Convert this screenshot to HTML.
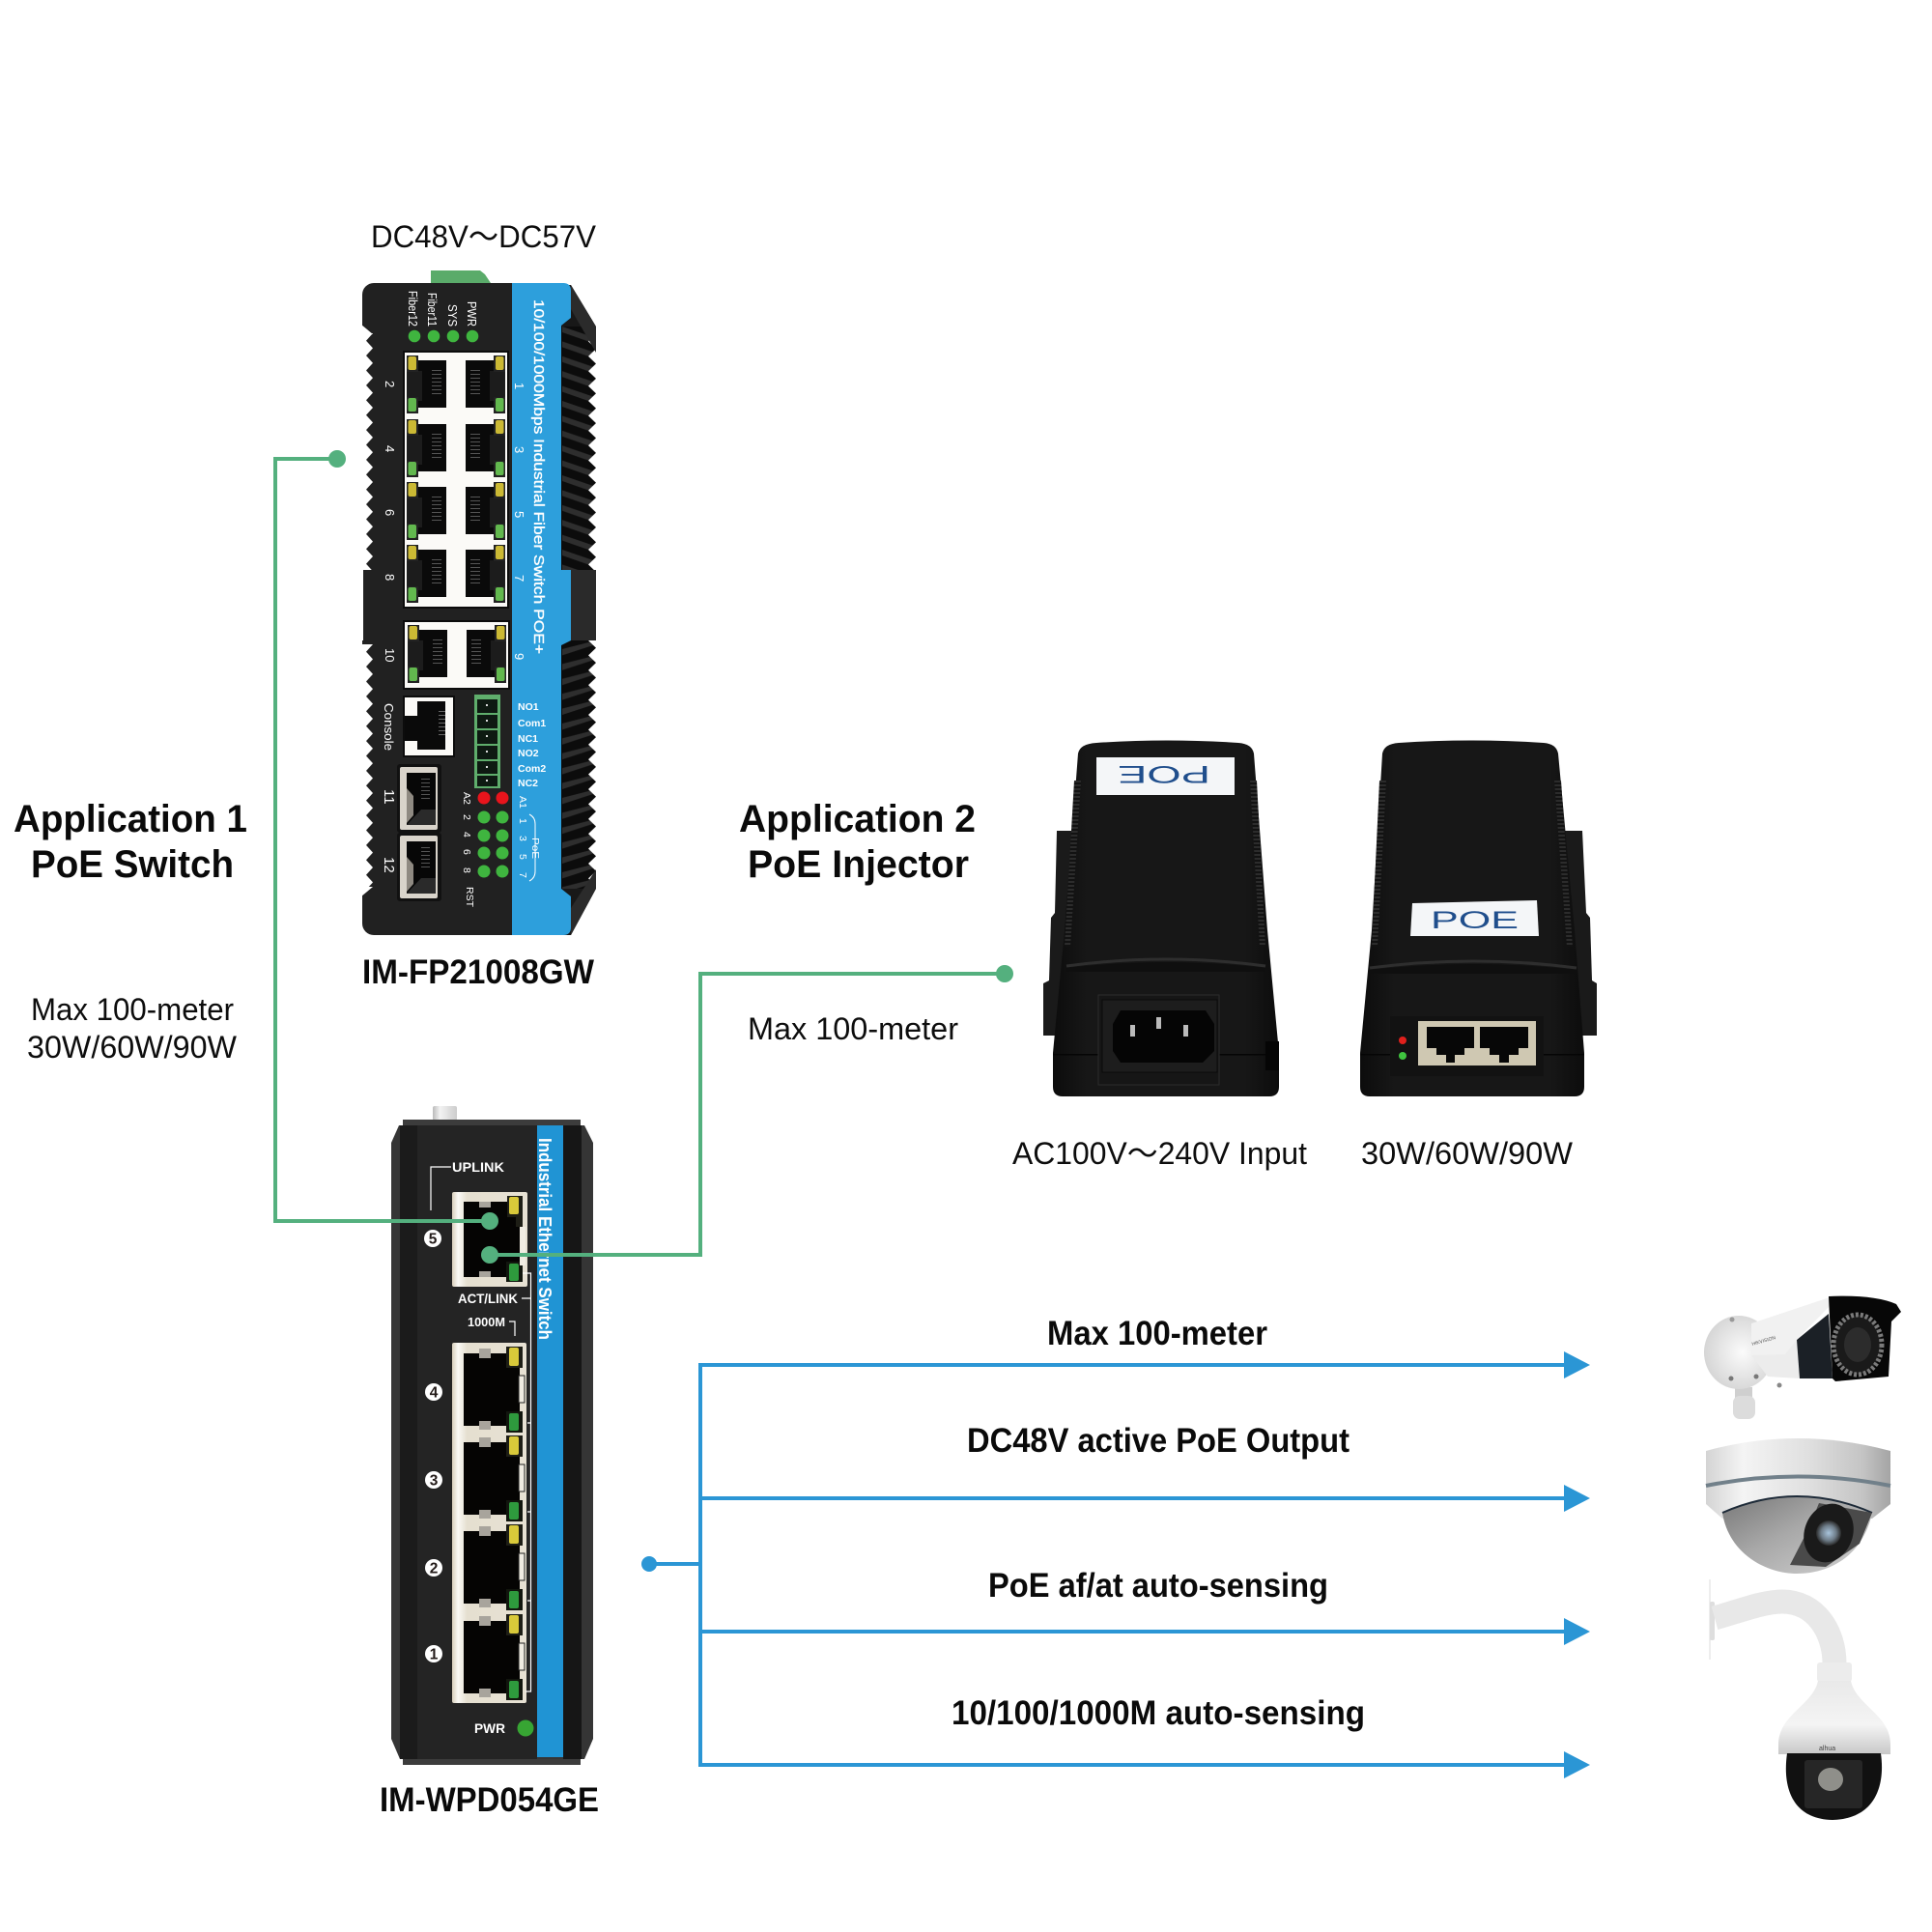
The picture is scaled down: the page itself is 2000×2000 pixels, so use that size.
<!DOCTYPE html>
<html>
<head>
<meta charset="utf-8">
<title>PoE diagram</title>
<style>
html,body{margin:0;padding:0;background:#fff;}
svg{display:block;}
text{font-family:"Liberation Sans","Noto Sans CJK JP",sans-serif;}
.t{font-size:32px;fill:#0d0d0d;}
.b{font-size:35px;font-weight:bold;fill:#0a0a0a;}
.h{font-size:40px;font-weight:bold;fill:#0a0a0a;}
.w{fill:#fff;font-size:12px;}
.wb{fill:#fff;font-size:14px;font-weight:bold;}
</style>
</head>
<body>
<svg width="2000" height="2000" viewBox="0 0 2000 2000" xmlns="http://www.w3.org/2000/svg">
<defs>
<pattern id="lt" patternUnits="userSpaceOnUse" x="375" y="345" width="11" height="15.4"><polygon points="0,0 11,0 4,7.7 11,15.4 0,15.4" fill="#fff"/></pattern>
<pattern id="lt2" patternUnits="userSpaceOnUse" x="375" y="667" width="11" height="15.4"><polygon points="0,0 11,0 4,7.7 11,15.4 0,15.4" fill="#fff"/></pattern>
<pattern id="rt" patternUnits="userSpaceOnUse" x="609" y="338" width="9" height="15.4"><polygon points="0,0 9,0 9,15.4 0,15.4 8,7.7" fill="#fff"/></pattern>
<pattern id="rt2" patternUnits="userSpaceOnUse" x="609" y="663" width="9" height="15.4"><polygon points="0,0 9,0 9,15.4 0,15.4 8,7.7" fill="#fff"/></pattern>
<pattern id="rib" patternUnits="userSpaceOnUse" x="581" y="338" width="36" height="15.4"><rect width="36" height="15.4" fill="#0c0c0c"/><polygon points="1,0 36,12 36,15.4 28,15.4 1,6" fill="#2e2e2e"/></pattern>
<pattern id="rib2" patternUnits="userSpaceOnUse" x="581" y="663" width="36" height="15.4"><rect width="36" height="15.4" fill="#0c0c0c"/><polygon points="1,9 36,0 36,4 1,15.4" fill="#2e2e2e"/></pattern>
<pattern id="vent" patternUnits="userSpaceOnUse" width="8" height="4"><rect width="8" height="4" fill="#121212"/><rect y="0" width="8" height="2" fill="#2c2c2c"/></pattern>
<linearGradient id="cream" x1="0" x2="1" y1="0" y2="0"><stop offset="0" stop-color="#d8cfbb"/><stop offset=".08" stop-color="#fbfaf6"/><stop offset=".2" stop-color="#e5dfd0"/><stop offset="1" stop-color="#e7e1d3"/></linearGradient>
<linearGradient id="tab" x1="0" x2="1" y1="0" y2="0"><stop offset="0" stop-color="#bbb"/><stop offset=".3" stop-color="#f3f3f3"/><stop offset="1" stop-color="#ccc"/></linearGradient>
<linearGradient id="inj" x1="0" x2="1" y1="0" y2="0"><stop offset="0" stop-color="#0c0c0c"/><stop offset=".15" stop-color="#171717"/><stop offset=".85" stop-color="#171717"/><stop offset="1" stop-color="#0c0c0c"/></linearGradient>
<linearGradient id="silver" x1="0" x2="1" y1="0" y2="0"><stop offset="0" stop-color="#d4d4d4"/><stop offset=".2" stop-color="#f4f4f4"/><stop offset=".55" stop-color="#e0e0e0"/><stop offset=".85" stop-color="#c4c4c4"/><stop offset="1" stop-color="#a4a4a4"/></linearGradient>
<linearGradient id="dome" x1="0" x2="1" y1="0" y2="1"><stop offset="0" stop-color="#777"/><stop offset=".45" stop-color="#a8a8a8"/><stop offset="1" stop-color="#d2d2d2"/></linearGradient>
<linearGradient id="ptz" x1="0" x2="0" y1="0" y2="1"><stop offset="0" stop-color="#e9e9e9"/><stop offset=".6" stop-color="#f4f4f4"/><stop offset="1" stop-color="#c8c8c8"/></linearGradient>
<radialGradient id="white" cx=".55" cy=".5" r=".6"><stop offset="0" stop-color="#fbfbfb"/><stop offset="1" stop-color="#d2d2d2"/></radialGradient>
<radialGradient id="lens" cx=".5" cy=".5" r=".5"><stop offset="0" stop-color="#a8c4dc"/><stop offset=".6" stop-color="#6e7c88"/><stop offset="1" stop-color="#2a2a2a"/></radialGradient>

<g id="rj">
  <polygon points="9,0 41,0 41,49 9,49 9,42 0,42 0,11 9,11" fill="#0a0a0a"/>
  <rect x="0" y="11" width="16" height="31" fill="#1c1c1c"/>
  <g fill="#555"><rect x="26" y="10" width="10" height="1"/><rect x="26" y="14" width="10" height="1"/><rect x="26" y="18" width="10" height="1"/><rect x="26" y="22" width="10" height="1"/><rect x="26" y="26" width="10" height="1"/><rect x="26" y="30" width="10" height="1"/><rect x="26" y="34" width="10" height="1"/></g>
  <rect x="0" y="-5" width="12" height="17" fill="#222"/>
  <rect x="1.500" y="-4" width="8.500" height="14" rx="2" fill="#cbb934"/>
  <rect x="0" y="38" width="12" height="17" fill="#222"/>
  <rect x="1.500" y="39" width="8.500" height="14" rx="2" fill="#62b84e"/>
</g>
<g id="sfp">
  <rect x="-3" y="-3" width="46" height="71" rx="3" fill="#111"/>
  <rect x="0" y="0" width="39" height="65" rx="2" fill="#d9d4cb"/>
  <rect x="7" y="6" width="30" height="54" fill="#070707"/>
  <polygon points="7,60 37,60 37,44 22,44" fill="#2a2a2a"/>
  <polygon points="7,22 14,30 14,50 7,58" fill="#8f8a82"/>
  <g fill="#555"><rect x="22" y="12" width="9" height="1"/><rect x="22" y="16" width="9" height="1"/><rect x="22" y="20" width="9" height="1"/><rect x="22" y="24" width="9" height="1"/><rect x="22" y="28" width="9" height="1"/><rect x="22" y="32" width="9" height="1"/></g>
</g>
<g id="gp">
  <rect x="480" y="0" width="58" height="75" fill="#050403"/>
  <rect x="496" y="-5" width="12" height="10" fill="#a8a49c"/>
  <rect x="496" y="70" width="12" height="9" fill="#a8a49c"/>
  <rect x="524" y="-7" width="17" height="22" fill="#1e1e16"/>
  <rect x="527" y="-6" width="10" height="19" rx="2" fill="#d9c93a"/>
  <rect x="524" y="60" width="17" height="22" fill="#12160e"/>
  <rect x="527" y="62" width="10" height="18" rx="2" fill="#2e9a3d"/>
  <rect x="537" y="23" width="6" height="28" fill="#f0ece2" stroke="#222" stroke-width="1"/>
</g>
</defs>

<rect width="2000" height="2000" fill="#fff"/>

<!-- Switch 1 -->
<polygon points="446,280 497,280 502,284 508,293 446,293" fill="#5aab6a"/>
<rect x="375" y="293" width="218" height="675" rx="12" fill="#212121"/>
<polygon points="591,295 617,338 617,920 591,968 575,968 575,295" fill="#181818"/>
<rect x="581" y="338" width="36" height="252" fill="url(#rib)"/>
<rect x="581" y="663" width="36" height="257" fill="url(#rib2)"/>
<rect x="591" y="590" width="26" height="73" fill="#2a2a2a"/>
<rect x="609" y="338" width="9" height="252" fill="url(#rt)"/>
<rect x="609" y="663" width="9" height="257" fill="url(#rt2)"/>
<polygon points="617,338 618,293 592,293" fill="#fff"/>
<polygon points="617,920 618,968 592,968" fill="#fff"/>
<polygon points="591,295 617,338 617,365 591,320" fill="#2b2b2b"/>
<polygon points="591,940 617,900 617,920 591,968" fill="#2b2b2b"/>
<path d="M530 293H583Q591 293 591 301V329L581 337V590H591V663L581 668V920L591 928V960Q591 968 583 968H530Z" fill="#2d9fdc"/>
<!-- left serration -->
<rect x="375" y="345" width="11" height="245" fill="url(#lt)"/>
<rect x="375" y="667" width="11" height="252" fill="url(#lt2)"/>
<polygon points="374,336 374,346 386,346" fill="#fff"/>
<polygon points="374,928 374,918 386,918" fill="#fff"/>
<rect x="374" y="590" width="2" height="73" fill="#fff"/>
<!-- top labels -->
<g class="w" style="font-size:12.5px">
<text transform="translate(423,301) rotate(90)" textLength="37" lengthAdjust="spacingAndGlyphs">Fiber12</text>
<text transform="translate(443,303) rotate(90)" textLength="35" lengthAdjust="spacingAndGlyphs">Fiber11</text>
<text transform="translate(464,315) rotate(90)" textLength="23" lengthAdjust="spacingAndGlyphs">SYS</text>
<text transform="translate(484,312) rotate(90)" textLength="26" lengthAdjust="spacingAndGlyphs">PWR</text>
</g>
<g fill="#3fb53f"><circle cx="429" cy="348" r="6.300"/><circle cx="449" cy="348" r="6.300"/><circle cx="469" cy="348" r="6.300"/><circle cx="489" cy="348" r="6.300"/></g>
<!-- ports block 1 -->
<rect x="418" y="364" width="108" height="265" fill="#fbfaf7" stroke="#0c0c0c" stroke-width="2"/>
<use href="#rj" x="421" y="373"/><use href="#rj" x="421" y="439"/><use href="#rj" x="421" y="504"/><use href="#rj" x="421" y="569"/>
<use href="#rj" transform="translate(523,373) scale(-1,1)"/><use href="#rj" transform="translate(523,439) scale(-1,1)"/><use href="#rj" transform="translate(523,504) scale(-1,1)"/><use href="#rj" transform="translate(523,569) scale(-1,1)"/>
<rect x="418" y="643" width="109" height="70" fill="#fbfaf7" stroke="#0c0c0c" stroke-width="2"/>
<use href="#rj" x="422" y="652"/><use href="#rj" transform="translate(524,652) scale(-1,1)"/>
<!-- port numbers -->
<g class="w" style="font-size:13px">
<text transform="translate(399,394) rotate(90)">2</text><text transform="translate(399,461) rotate(90)">4</text><text transform="translate(399,527) rotate(90)">6</text><text transform="translate(399,594) rotate(90)">8</text><text transform="translate(399,671) rotate(90)">10</text>
<text transform="translate(533,396) rotate(90)">1</text><text transform="translate(533,462) rotate(90)">3</text><text transform="translate(533,529) rotate(90)">5</text><text transform="translate(533,595) rotate(90)">7</text><text transform="translate(533,676) rotate(90)">9</text>
<text transform="translate(398,728) rotate(90)" textLength="49" lengthAdjust="spacingAndGlyphs">Console</text>
<text transform="translate(398,817) rotate(90)" style="font-size:15px">11</text><text transform="translate(398,887) rotate(90)" style="font-size:15px">12</text>
</g>
<text class="w" transform="translate(553,310) rotate(90)" textLength="367" lengthAdjust="spacingAndGlyphs" stroke="#fff" stroke-width=".35" style="font-size:15px">10/100/1000Mbps Industrial Fiber Switch POE+</text>
<!-- console -->
<rect x="418" y="721" width="52" height="62" fill="#fbfaf7" stroke="#0c0c0c" stroke-width="2"/>
<polygon points="432,726 461,726 461,776 432,776 432,767 419,767 419,741 432,741" fill="#0a0a0a"/>
<g fill="#666"><rect x="454" y="736" width="7" height="1"/><rect x="454" y="740" width="7" height="1"/><rect x="454" y="744" width="7" height="1"/><rect x="454" y="748" width="7" height="1"/><rect x="454" y="752" width="7" height="1"/><rect x="454" y="756" width="7" height="1"/><rect x="454" y="760" width="7" height="1"/></g>
<!-- terminal -->
<rect x="491" y="719" width="27" height="97" fill="#5fae6c"/>
<g fill="#0e1a12"><rect x="494" y="724" width="21" height="14"/><rect x="494" y="740" width="21" height="14"/><rect x="494" y="756" width="21" height="14"/><rect x="494" y="772" width="21" height="14"/><rect x="494" y="788" width="21" height="13"/><rect x="494" y="803" width="21" height="11"/></g>
<g fill="#ddd"><rect x="503" y="729" width="2" height="2"/><rect x="503" y="745" width="2" height="2"/><rect x="503" y="761" width="2" height="2"/><rect x="503" y="777" width="2" height="2"/><rect x="503" y="793" width="2" height="2"/><rect x="503" y="807" width="2" height="2"/></g>
<!-- relay labels -->
<g class="w" style="font-size:10.5px;font-weight:bold">
<text x="536" y="735">NO1</text><text x="536" y="752">Com1</text><text x="536" y="768">NC1</text><text x="536" y="783">NO2</text><text x="536" y="799">Com2</text><text x="536" y="814">NC2</text>
</g>
<use href="#sfp" x="414" y="794"/><use href="#sfp" x="414" y="865"/>
<!-- LEDs -->
<g fill="#e8141c"><circle cx="501" cy="826" r="6.500"/><circle cx="520" cy="826" r="6.500"/></g>
<g fill="#3fb53f"><circle cx="501" cy="846" r="6.500"/><circle cx="520" cy="846" r="6.500"/><circle cx="501" cy="865" r="6.500"/><circle cx="520" cy="865" r="6.500"/><circle cx="501" cy="883" r="6.500"/><circle cx="520" cy="883" r="6.500"/><circle cx="501" cy="902" r="6.500"/><circle cx="520" cy="902" r="6.500"/></g>
<g class="w" style="font-size:10.5px">
<text transform="translate(480,820) rotate(90)">A2</text><text transform="translate(480,843) rotate(90)">2</text><text transform="translate(480,861) rotate(90)">4</text><text transform="translate(480,879) rotate(90)">6</text><text transform="translate(480,898) rotate(90)">8</text>
<text transform="translate(483,918) rotate(90)" textLength="21" lengthAdjust="spacingAndGlyphs">RST</text>
<text transform="translate(538,824) rotate(90)">A1</text><text transform="translate(538,847) rotate(90)">1</text><text transform="translate(538,865) rotate(90)">3</text><text transform="translate(538,884) rotate(90)">5</text><text transform="translate(538,903) rotate(90)">7</text>
<text transform="translate(551,867) rotate(90)" textLength="22" lengthAdjust="spacingAndGlyphs">PoE</text>
</g>
<path d="M548 843Q554 846 554 853V902Q554 909 548 912" fill="none" stroke="#fff" stroke-width="1"/>

<!-- Switch 2 -->
<rect x="448" y="1145" width="25" height="15" rx="2" fill="url(#tab)"/>
<rect x="417" y="1159" width="184" height="7" fill="#3c3c3c"/>
<rect x="417" y="1820" width="184" height="7" fill="#3c3c3c"/>
<polygon points="413,1165 605,1165 614,1183 614,1800 605,1821 414,1821 405,1800 405,1183" fill="#353535"/>
<rect x="414" y="1165" width="18" height="656" fill="#1b1b1b"/>
<rect x="432" y="1165" width="124" height="656" fill="#242424"/>
<rect x="583" y="1165" width="19" height="656" fill="#161616"/>
<rect x="556" y="1165" width="27" height="654" fill="#2094d4"/>
<text class="wb" transform="translate(558,1178) rotate(90)" textLength="209" lengthAdjust="spacingAndGlyphs" style="font-size:18.5px">Industrial Ethernet Switch</text>
<!-- port 5 -->
<rect x="468" y="1234" width="78" height="98" rx="2" fill="url(#cream)"/>
<rect x="480" y="1244" width="58" height="78" fill="#050403"/>
<rect x="496" y="1244" width="12" height="6" fill="#a8a49c"/>
<rect x="496" y="1316" width="12" height="6" fill="#a8a49c"/>
<polygon points="525,1238 541,1238 541,1270 534,1270 534,1260 525,1260" fill="#1e1e16"/>
<rect x="527" y="1239" width="10" height="18" rx="2" fill="#d9c93a"/>
<rect x="524" y="1306" width="17" height="21" fill="#12160e"/>
<rect x="527" y="1308" width="10" height="18" rx="2" fill="#2e9a3d"/>
<rect x="538" y="1270" width="6" height="40" fill="#f0ece2"/>
<!-- ports 4-1 -->
<rect x="468" y="1390" width="77" height="373" rx="2" fill="url(#cream)"/>
<use href="#gp" y="1401"/><use href="#gp" y="1493"/><use href="#gp" y="1585"/><use href="#gp" y="1678"/>
<!-- circled numbers -->
<g fill="#fff"><circle cx="448" cy="1282" r="9"/><circle cx="449" cy="1441" r="9"/><circle cx="449" cy="1532" r="9"/><circle cx="449" cy="1623" r="9"/><circle cx="449" cy="1712" r="9"/></g>
<g font-size="15.500" font-weight="bold" fill="#221a18" text-anchor="middle"><text x="448" y="1287.500">5</text><text x="449" y="1446.500">4</text><text x="449" y="1537.500">3</text><text x="449" y="1628.500">2</text><text x="449" y="1717.500">1</text></g>
<!-- switch 2 labels -->
<text class="wb" x="468" y="1213" textLength="54" lengthAdjust="spacingAndGlyphs">UPLINK</text>
<path d="M446 1253V1208H467" fill="none" stroke="#fff" stroke-width="1.200"/>
<text class="wb" x="474" y="1349" textLength="62" lengthAdjust="spacingAndGlyphs">ACT/LINK</text>
<text class="wb" x="484" y="1373" textLength="39" lengthAdjust="spacingAndGlyphs" style="font-size:13px">1000M</text>
<path d="M527 1368H533V1383" fill="none" stroke="#fff" stroke-width="1.200"/>
<path d="M541 1318H549.500V1751H544M540 1344H549M546 1473H549M546 1565H549M546 1657H549" fill="none" stroke="#fff" stroke-width="1.200"/>
<text class="wb" x="491" y="1794" textLength="32" lengthAdjust="spacingAndGlyphs">PWR</text>
<circle cx="544" cy="1789" r="8.500" fill="#37a533"/>

<!-- Injector left -->
<polygon points="1094,860 1115,860 1115,1072 1080,1072 1080,1018 1086,1015 1088,950 1092,945" fill="#1a1a1a"/>
<path d="M1116 780Q1118 770 1135 769Q1208 764 1282 769Q1296 770 1298 780L1312 963L1324 1090V1125Q1324 1135 1314 1135H1100Q1090 1135 1090 1125V1090L1102 963Z" fill="url(#inj)"/>
<polygon points="1112,808 1119,808 1108,980 1102,980" fill="url(#vent)"/>
<polygon points="1294,808 1301,808 1310,980 1304,980" fill="url(#vent)"/>
<path d="M1104 1000Q1207 986 1310 1000" fill="none" stroke="#2e2e2e" stroke-width="3"/>
<path d="M1104 1002Q1207 990 1310 1002V1006H1104Z" fill="#0f0f0f"/>
<rect x="1090" y="1091" width="234" height="1.500" fill="#050505"/>
<rect x="1135" y="784" width="143" height="39" fill="#f4f6f8"/>
<text x="0" y="0" transform="translate(1253,793) rotate(180)" textLength="96" lengthAdjust="spacingAndGlyphs" font-size="25" fill="#1f4e8c">POE</text>
<rect x="1137" y="1030" width="125" height="93" fill="#161616" stroke="#2c2c2c" stroke-width="1"/>
<rect x="1141" y="1035" width="119" height="75" fill="#1d1d1d" stroke="#0a0a0a" stroke-width="1"/>
<polygon points="1160,1046 1248,1046 1257,1060 1257,1088 1245,1100 1160,1100 1152,1088 1152,1060" fill="#050505"/>
<g fill="#bbb"><rect x="1170" y="1061" width="5" height="12"/><rect x="1197" y="1053" width="5" height="12"/><rect x="1225" y="1061" width="5" height="12"/></g>
<rect x="1310" y="1078" width="14" height="30" fill="#050505"/>

<!-- Injector right -->
<polygon points="1610,860 1638,860 1642,945 1646,950 1648,1015 1653,1018 1653,1072 1620,1072" fill="#1a1a1a"/>
<path d="M1431 780Q1433 770 1448 769Q1522 764 1598 769Q1611 770 1613 780L1630 963L1640 1090V1125Q1640 1135 1630 1135H1418Q1408 1135 1408 1125V1090L1420 963Z" fill="url(#inj)"/>
<polygon points="1428,808 1435,808 1426,980 1420,980" fill="url(#vent)"/>
<polygon points="1609,808 1616,808 1628,980 1622,980" fill="url(#vent)"/>
<path d="M1418 1002Q1526 988 1632 1002" fill="none" stroke="#2e2e2e" stroke-width="3"/>
<path d="M1418 1004Q1526 992 1632 1004V1008H1418Z" fill="#0f0f0f"/>
<rect x="1408" y="1091" width="232" height="1.500" fill="#050505"/>
<polygon points="1462,935 1591,932 1593,969 1460,969" fill="#f4f6f8"/>
<text x="1481" y="961" textLength="91" lengthAdjust="spacingAndGlyphs" font-size="25" fill="#1f4e8c">POE</text>
<rect x="1439" y="1052" width="159" height="62" fill="#121212"/>
<rect x="1468" y="1057" width="122" height="46" fill="#cfc8b2"/>
<polygon points="1477,1063 1526,1063 1526,1085 1516,1085 1516,1092 1506,1092 1506,1100 1497,1100 1497,1092 1487,1092 1487,1085 1477,1085" fill="#070707"/>
<polygon points="1532,1063 1582,1063 1582,1085 1572,1085 1572,1092 1562,1092 1562,1100 1552,1100 1552,1092 1542,1092 1542,1085 1532,1085" fill="#070707"/>
<circle cx="1452" cy="1077" r="4" fill="#e0201c"/>
<circle cx="1452" cy="1093" r="4" fill="#3fc43f"/>

<!-- Bullet camera -->
<rect x="1796" y="1436" width="18" height="12" fill="#cfcfcf"/>
<rect x="1794" y="1445" width="23" height="24" rx="7" fill="#dcdcdc"/>
<ellipse cx="1800" cy="1400" rx="36" ry="38" fill="url(#white)"/>
<polygon points="1813,1403 1860,1387 1863,1427 1830,1425" fill="#ececec"/>
<polygon points="1860,1387 1893,1360 1897,1427 1863,1427" fill="#1b2026"/>
<polygon points="1813,1370 1897,1342 1893,1353 1860,1387 1848,1402 1813,1403" fill="#f1f1f1"/>
<path d="M1893 1342Q1940 1340 1963 1350L1968 1358L1958 1368L1955 1425L1900 1430L1897 1427Z" fill="#070707"/>
<ellipse cx="1923" cy="1392" rx="25" ry="31" fill="#1a1a1a" stroke="#7a7a7a" stroke-width="5" stroke-dasharray="3 2"/>
<ellipse cx="1923" cy="1392" rx="14" ry="18" fill="#2c2c2c"/>
<text x="1814" y="1393" font-size="5" fill="#555" transform="rotate(-16 1814 1393)">HIKVISION</text>
<circle cx="1792" cy="1427" r="2.500" fill="#777"/><circle cx="1818" cy="1425" r="2.500" fill="#777"/><circle cx="1793" cy="1366" r="2.500" fill="#999"/><circle cx="1842" cy="1434" r="2.500" fill="#888"/>

<!-- Dome camera -->
<path d="M1766 1502Q1861 1476 1957 1502V1557L1938 1572H1783L1766 1557Z" fill="url(#silver)"/>
<path d="M1766 1538Q1861 1519 1957 1538" fill="none" stroke="#71808a" stroke-width="4"/>
<path d="M1783 1566C1790 1610 1830 1629 1860 1629C1900 1629 1930 1605 1938 1566Q1860 1532 1783 1566Z" fill="url(#dome)"/>
<path d="M1783 1566Q1860 1532 1938 1566" fill="none" stroke="#1d2a38" stroke-width="2"/>
<polygon points="1853,1620 1872,1583 1883,1556 1938,1566 1925,1598 1890,1622" fill="#4a4a4a"/>
<ellipse cx="1893" cy="1587" rx="25" ry="31" fill="#1a1a1a" transform="rotate(20 1893 1587)"/>
<circle cx="1893" cy="1587" r="13" fill="url(#lens)"/>

<!-- PTZ camera -->
<rect x="1769.500" y="1635" width="1" height="83" fill="#ddd"/>
<rect x="1770" y="1658" width="5" height="40" rx="2" fill="#dedede"/>
<path d="M1775 1675C1800 1668 1825 1658 1845 1658C1880 1658 1899 1690 1899 1722" fill="none" stroke="#e8e8e8" stroke-width="25"/>
<rect x="1881" y="1721" width="36" height="20" rx="3" fill="#ececec"/>
<path d="M1882 1740H1916C1921 1765 1957 1775 1957 1806V1816H1841V1806C1841 1775 1877 1765 1882 1740Z" fill="url(#ptz)"/>
<path d="M1850 1815H1947C1952 1850 1940 1883 1897 1884C1855 1883 1845 1850 1850 1815Z" fill="#111"/>
<rect x="1868" y="1822" width="60" height="50" rx="3" fill="#262626"/>
<ellipse cx="1895" cy="1842" rx="13" ry="12" fill="#8f8f8a"/>
<text x="1883" y="1812" font-size="7" fill="#444">alhua</text>

<!-- Connectors green -->
<g fill="none" stroke="#54b07e" stroke-width="4">
<path d="M349 475H285V1264H507"/>
<path d="M507 1299H725V1008H1040"/>
</g>
<g fill="#54b07e"><circle cx="349" cy="475" r="9"/><circle cx="507" cy="1264" r="9"/><circle cx="507" cy="1299" r="9"/><circle cx="1040" cy="1008" r="9"/></g>

<!-- Connectors blue -->
<g fill="none" stroke="#2b96d5" stroke-width="4">
<path d="M672 1619H725"/>
<path d="M725 1413V1827"/>
<path d="M723 1413H1622M723 1551H1622M723 1689H1622M723 1827H1622"/>
</g>
<g fill="#2b96d5">
<circle cx="672" cy="1619" r="8"/>
<polygon points="1619,1399 1646,1413 1619,1427"/>
<polygon points="1619,1537 1646,1551 1619,1565"/>
<polygon points="1619,1675 1646,1689 1619,1703"/>
<polygon points="1619,1813 1646,1827 1619,1841"/>
</g>

<!-- Text labels -->
<text class="t" x="384" y="256" textLength="233" lengthAdjust="spacingAndGlyphs">DC48V～DC57V</text>
<text class="h" x="14" y="861" textLength="242" lengthAdjust="spacingAndGlyphs">Application 1</text>
<text class="h" x="32" y="908" textLength="210" lengthAdjust="spacingAndGlyphs">PoE Switch</text>
<text class="t" x="32" y="1056" textLength="210" lengthAdjust="spacingAndGlyphs">Max 100-meter</text>
<text class="t" x="28" y="1095" textLength="217" lengthAdjust="spacingAndGlyphs">30W/60W/90W</text>
<text class="b" x="375" y="1018" textLength="240" lengthAdjust="spacingAndGlyphs">IM-FP21008GW</text>
<text class="b" x="393" y="1875" textLength="227" lengthAdjust="spacingAndGlyphs">IM-WPD054GE</text>
<text class="h" x="765" y="861" textLength="245" lengthAdjust="spacingAndGlyphs">Application 2</text>
<text class="h" x="774" y="908" textLength="229" lengthAdjust="spacingAndGlyphs">PoE Injector</text>
<text class="t" x="774" y="1076" textLength="218" lengthAdjust="spacingAndGlyphs">Max 100-meter</text>
<text class="t" x="1048" y="1205" textLength="305" lengthAdjust="spacingAndGlyphs">AC100V～240V Input</text>
<text class="t" x="1409" y="1205" textLength="219" lengthAdjust="spacingAndGlyphs">30W/60W/90W</text>
<text class="b" x="1084" y="1392" textLength="228" lengthAdjust="spacingAndGlyphs">Max 100-meter</text>
<text class="b" x="1001" y="1503" textLength="396" lengthAdjust="spacingAndGlyphs">DC48V active PoE Output</text>
<text class="b" x="1023" y="1653" textLength="352" lengthAdjust="spacingAndGlyphs">PoE af/at auto-sensing</text>
<text class="b" x="985" y="1785" textLength="428" lengthAdjust="spacingAndGlyphs">10/100/1000M auto-sensing</text>
</svg>
</body>
</html>
